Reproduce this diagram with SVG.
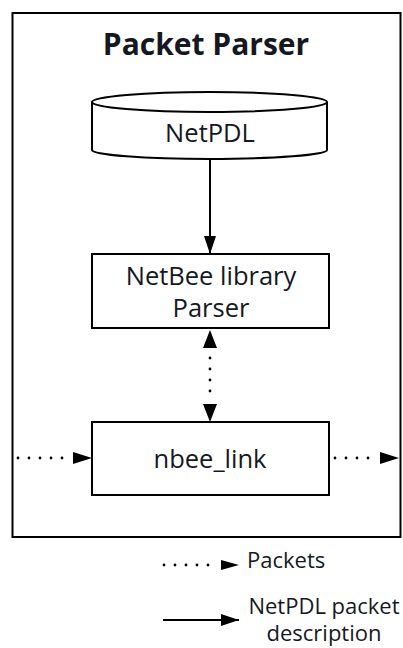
<svg xmlns="http://www.w3.org/2000/svg" width="403" height="648" viewBox="0 0 403 648">
<defs>
<style>
.box{fill:#fff;stroke:#000;stroke-width:2}
.t{font-family:"Open Sans","Liberation Sans",sans-serif;fill:#15191f;text-anchor:middle}
.solid{stroke:#000;stroke-width:2;fill:none}
.dot{stroke:#000;stroke-width:2.8;fill:none;stroke-dasharray:0 11;stroke-linecap:round}
</style>
<marker id="ahl" viewBox="0 0 18 12" refX="18" refY="6" markerWidth="18" markerHeight="12" markerUnits="userSpaceOnUse" orient="auto-start-reverse">
<path d="M0,0 L18,6 L0,12 z" fill="#000"/>
</marker>
</defs>
<rect width="403" height="648" fill="#fff"/>
<g id="packet-parser">
<rect class="box" x="12.5" y="13" width="388" height="524"/>
<text class="t" x="206" y="55" font-size="30" font-weight="bold">Packet Parser</text>
</g>
<g id="netpdl">
<path class="box" d="M92,102 L92,150 A117.5,9 0 0 0 327,150 L327,102"/>
<ellipse class="box" cx="209.5" cy="102" rx="117.5" ry="10"/>
<text class="t" x="210" y="142" font-size="25.5">NetPDL</text>
</g>
<g id="netbee">
<rect class="box" x="92" y="254" width="237" height="74"/>
<text class="t" x="211" y="285" font-size="25.5">NetBee library</text>
<text class="t" x="211" y="317" font-size="25.5">Parser</text>
</g>
<g id="nbee_link">
<rect class="box" x="92" y="422" width="237" height="73"/>
<text class="t" x="210" y="468" font-size="25.5">nbee_link</text>
</g>
<g id="connectors">
<line class="solid" x1="210" y1="159" x2="210" y2="254" marker-end="url(#ahl)"/>
<line class="dot" x1="210" y1="358" x2="210" y2="400"/>
<path d="M203,348 L210,330 L217,348 z M203,404 L210,422 L217,404 z" fill="#000"/>
<line class="dot" x1="18" y1="458" x2="66" y2="458"/>
<path d="M73,452 L92,458 L73,464 z" fill="#000"/>
<line class="dot" x1="335" y1="458" x2="379" y2="458"/>
<path d="M380,452 L399,458 L380,464 z" fill="#000"/>
</g>
<g id="legend">
<line class="dot" x1="164" y1="565" x2="212" y2="565"/>
<path d="M221,560 L239,565 L221,570 z" fill="#000"/>
<text class="t" x="247" y="568" font-size="22" style="text-anchor:start">Packets</text>
<line class="solid" x1="163" y1="620" x2="239" y2="620" marker-end="url(#ahl)"/>
<text class="t" x="324" y="614" font-size="22">NetPDL packet</text>
<text class="t" x="324" y="641" font-size="22">description</text>
</g>
</svg>
